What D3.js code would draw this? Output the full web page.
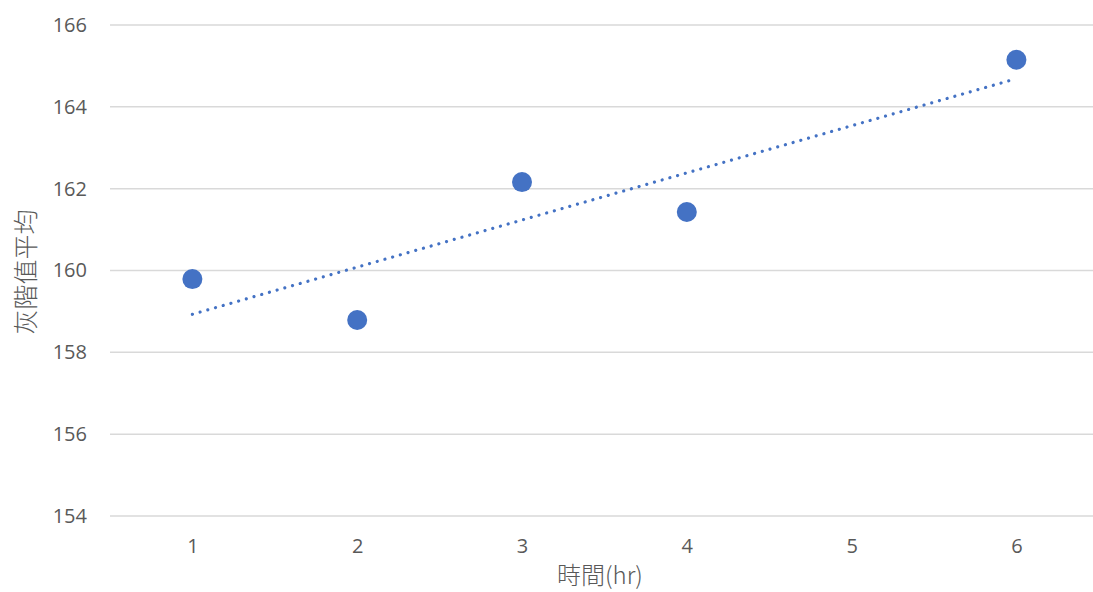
<!DOCTYPE html>
<html>
<head>
<meta charset="utf-8">
<script src="https://cdn.jsdelivr.net/npm/d3@7"></script>
<style>
  html, body { margin: 0; padding: 0; background: #fff; }
  svg { display: block; }
</style>
</head>
<body>
<svg id="chart" width="1093" height="592"></svg>
<script>
// Gray-level mean measured over time
const hours = [1, 2, 3, 4, 6];
const grayMean = [159.79, 158.79, 162.16, 161.43, 165.15];
const xTicks = [1, 2, 3, 4, 5, 6];
const yTicks = [154, 156, 158, 160, 162, 164, 166];
const xTitle = "時間(hr)";
const yTitle = "灰階值平均";

const svg = d3.select("#chart");
const font = "'Open Sans', 'Noto Sans', sans-serif";
const cjkFont = "'Noto Sans CJK TC', 'Noto Sans CJK SC', sans-serif";

const x = d3.scaleLinear().domain([0.5, 6.5]).range([110, 1098.8]);
const y = d3.scaleLinear().domain([154, 166]).range([516, 25]);

// Horizontal gridlines
svg.append("g")
  .selectAll("line")
  .data(yTicks)
  .join("line")
  .attr("x1", 110).attr("x2", 1093)
  .attr("y1", d => y(d)).attr("y2", d => y(d))
  .attr("stroke", "#d9d9d9").attr("stroke-width", 1.5);

// Y axis labels
const yAxis = svg.append("g")
  .attr("transform", "translate(96,0)")
  .call(d3.axisLeft(y).tickValues(yTicks).tickSize(0).tickPadding(9));
yAxis.select(".domain").remove();
yAxis.selectAll("text")
  .attr("fill", "#595959").style("font-size", "20px").style("font-family", font);

// X axis labels
const xAxis = svg.append("g")
  .attr("transform", "translate(0,539)")
  .call(d3.axisBottom(x).tickValues(xTicks).tickSize(0).tickPadding(0).tickFormat(d3.format("d")));
xAxis.select(".domain").remove();
xAxis.selectAll("text")
  .attr("fill", "#595959").style("font-size", "20px").style("font-family", font);

// Linear trendline (least squares)
const mx = d3.mean(hours), my = d3.mean(grayMean);
const sxy = d3.sum(hours, (h, i) => (h - mx) * (grayMean[i] - my));
const sxx = d3.sum(hours, h => (h - mx) ** 2);
const slope = sxy / sxx, intercept = my - slope * mx;
const x0 = d3.min(hours), x1 = d3.max(hours);
svg.append("line")
  .attr("x1", x(x0)).attr("y1", y(intercept + slope * x0))
  .attr("x2", x(x1)).attr("y2", y(intercept + slope * x1))
  .attr("stroke", "#4472c4").attr("stroke-width", 3.2)
  .attr("stroke-linecap", "round")
  .attr("stroke-dasharray", "0.01 8");

// Data points
svg.append("g")
  .selectAll("circle")
  .data(hours)
  .join("circle")
  .attr("cx", d => x(d))
  .attr("cy", (d, i) => y(grayMean[i]))
  .attr("r", 10)
  .attr("fill", "#4472c4");

// Axis titles
svg.append("text")
  .attr("x", 600).attr("y", 584)
  .attr("text-anchor", "middle")
  .attr("fill", "#595959")
  .style("font-size", "24px").style("font-family", cjkFont)
  .style("font-weight", 300)
  .text(xTitle);

svg.append("text")
  .attr("transform", "translate(35,272) rotate(-90)")
  .attr("text-anchor", "middle")
  .attr("fill", "#595959")
  .style("font-size", "25px").style("font-family", cjkFont)
  .style("font-weight", 300)
  .text(yTitle);
</script>
</body>
</html>
